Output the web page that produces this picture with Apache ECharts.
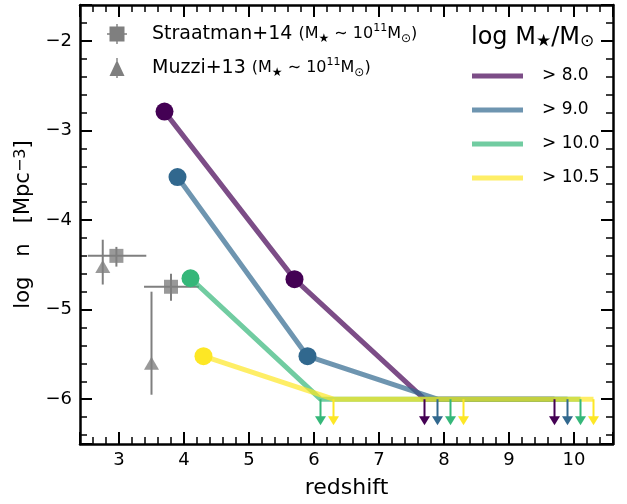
<!DOCTYPE html>
<html><head><meta charset="utf-8">
<script src="https://cdn.jsdelivr.net/npm/echarts@6.0.0/dist/echarts.min.js"></script>
<style>html,body{margin:0;padding:0;background:#fff}#c{width:627px;height:504px}</style>
</head><body><div id="c"></div>
<script>
const FONT = 'DejaVu Sans';

// ---- data: number density per stellar-mass threshold ----
const massLabels = ['> 8.0', '> 9.0', '> 10.0', '> 10.5'];
const massColors = ['#440154', '#31688e', '#35b779', '#fde725'];
const lineColors = ['rgba(68,1,84,0.7)', 'rgba(49,104,142,0.7)', 'rgba(53,183,121,0.7)', 'rgba(253,231,37,0.7)'];

const z80  = [3.7, 5.7, 7.7, 9.7];
const n80  = [-2.79, -4.66, -6.0, -6.0];
const lim80 = [0, 0, 1, 1];

const z90  = [3.9, 5.9, 7.9, 9.9];
const n90  = [-3.52, -5.52, -6.0, -6.0];
const lim90 = [0, 0, 1, 1];

const z100 = [4.1, 6.1, 8.1, 10.1];
const n100 = [-4.65, -6.0, -6.0, -6.0];
const lim100 = [0, 1, 1, 1];

const z105 = [4.3, 6.3, 8.3, 10.3];
const n105 = [-5.52, -6.0, -6.0, -6.0];
const lim105 = [0, 1, 1, 1];

// Straatman+14
const zS   = [2.96, 3.80];
const nS   = [-4.40, -4.745];
const zSlo = [2.52, 3.385];
const zShi = [3.42, 4.23];
const nSlo = [-4.52, -4.90];
const nShi = [-4.30, -4.60];

// Muzzi+13
const zM   = [2.75, 3.50];
const nM   = [-4.52, -5.60];
const nMlo = [-4.72, -5.95];
const nMhi = [-4.22, -4.80];

const xTicks = [3, 4, 5, 6, 7, 8, 9, 10];
const yTicks = [-6, -5, -4, -3, -2];

// ---- build ----
const groups = [
  [z80, n80, lim80], [z90, n90, lim90], [z100, n100, lim100], [z105, n105, lim105]
];
const ARROW_LEN = 0.29;
const GRAY = '#7f7f7f';

function fmtTick(list) {
  return v => {
    const r = Math.round(v);
    if (Math.abs(v - r) > 1e-6 || list.indexOf(r) < 0) return '';
    return r < 0 ? '\u2212' + Math.abs(r) : String(r);
  };
}

const series = [];
function errRender(params, api) {
  const x = api.value(0), y = api.value(1);
  const a = api.coord([api.value(2), y]), b = api.coord([api.value(3), y]);
  const c = api.coord([x, api.value(4)]), d = api.coord([x, api.value(5)]);
  const st = {stroke: GRAY, lineWidth: 2};
  return {type: 'group', children: [
    {type: 'line', shape: {x1: a[0], y1: a[1], x2: b[0], y2: b[1]}, style: st},
    {type: 'line', shape: {x1: c[0], y1: c[1], x2: d[0], y2: d[1]}, style: st}
  ]};
}
series.push({
  name: 'Straatman+14', type: 'custom', z: 1, silent: true,
  data: zS.map((z, i) => [z, nS[i], zSlo[i], zShi[i], nSlo[i], nShi[i]]),
  renderItem: errRender
});
series.push({
  name: 'Muzzi+13', type: 'custom', z: 1, silent: true,
  data: zM.map((z, i) => [z, nM[i], z, z, nMlo[i], nMhi[i]]),
  renderItem: errRender
});
series.push({
  name: 'Straatman+14', type: 'scatter', z: 2, symbol: 'rect', symbolSize: 14,
  itemStyle: {color: GRAY}, data: zS.map((z, i) => [z, nS[i]])
});
series.push({
  name: 'Muzzi+13', type: 'scatter', z: 2, symbol: 'triangle', symbolSize: [15, 13],
  itemStyle: {color: GRAY}, data: zM.map((z, i) => [z, nM[i]])
});

groups.forEach((g, k) => {
  const [zz, nn, ll] = g;
  series.push({
    name: massLabels[k], type: 'line', z: 3, symbol: 'none',
    itemStyle: {color: lineColors[k]},
    lineStyle: {color: lineColors[k], width: 5, cap: 'butt'},
    data: zz.map((z, i) => [z, nn[i]])
  });
  series.push({
    name: massLabels[k], type: 'custom', z: 4, silent: true,
    data: zz.map((z, i) => [z, nn[i], ll[i]]).filter(p => p[2] === 1),
    renderItem: (params, api) => {
      const p0 = api.coord([api.value(0), api.value(1)]);
      const p1 = api.coord([api.value(0), api.value(1) - ARROW_LEN]);
      const col = massColors[k];
      return {type: 'group', children: [
        {type: 'line', shape: {x1: p0[0], y1: p0[1], x2: p1[0], y2: p1[1] - 8}, style: {stroke: col, lineWidth: 2}},
        {type: 'polygon', shape: {points: [[p1[0] - 5.5, p1[1] - 9], [p1[0] + 5.5, p1[1] - 9], [p1[0], p1[1]]]}, style: {fill: col}}
      ]};
    }
  });
  series.push({
    name: massLabels[k], type: 'scatter', z: 5, symbol: 'circle', symbolSize: 18,
    itemStyle: {color: massColors[k], opacity: 1},
    data: zz.map((z, i) => [z, nn[i], ll[i]]).filter(p => p[2] === 0).map(p => [p[0], p[1]])
  });
});

const axLine = {show: true, onZero: false, lineStyle: {color: '#000', width: 2.5}};
const axTick = {show: true, inside: true, length: 12, lineStyle: {color: '#000', width: 2}};
const axMinor = {show: true, splitNumber: 5, length: 7, lineStyle: {color: '#000', width: 1.5}};
function xAx(pos, lab) {
  return {
    type: 'value', position: pos, min: 2.4, max: 10.6, minInterval: 1, maxInterval: 1,
    axisLine: axLine, axisTick: axTick, minorTick: axMinor,
    splitLine: {show: false}, minorSplitLine: {show: false},
    axisLabel: lab ? {show: true, margin: 7, fontFamily: FONT, fontSize: 18, color: '#000', formatter: fmtTick(xTicks)} : {show: false},
    name: lab ? 'redshift' : '', nameLocation: 'middle', nameGap: 33,
    nameTextStyle: {fontFamily: FONT, fontSize: 22, color: '#000'}
  };
}
function yAx(pos, lab) {
  return {
    type: 'value', position: pos, min: -6.5, max: -1.6, minInterval: 1, maxInterval: 1,
    axisLine: axLine, axisTick: axTick, minorTick: axMinor,
    splitLine: {show: false}, minorSplitLine: {show: false},
    axisLabel: lab ? {show: true, margin: 8, fontFamily: FONT, fontSize: 18, color: '#000', formatter: fmtTick(yTicks)} : {show: false},
    name: lab ? 'log   n   [Mpc{sup|\u22123}]' : '', nameLocation: 'middle', nameGap: 45, nameRotate: 90,
    nameTextStyle: {fontFamily: FONT, fontSize: 21, color: '#000',
      rich: {sup: {fontFamily: FONT, fontSize: 16, color: '#000', verticalAlign: 'top', padding: [0, 0, 6, 0]}}}
  };
}

const SQ_ICON = 'path://M2.5,2.5H17.5V17.5H2.5Z M0,9.3H20V10.7H0Z M9.3,0H10.7V20H9.3Z';
const TR_ICON = 'path://M10,2L17.5,18H2.5Z M9.3,0H10.7V20H9.3Z';
const suffix = ' {p|(M}{s|\u2605}{p| \u223c 10}{u|11}{p|M}{s|\u2299}{p|)}';

const option = {
  animation: false,
  backgroundColor: '#fff',
  grid: {left: 80, right: 14, top: 5, bottom: 55, containLabel: false},
  xAxis: [xAx('bottom', true), xAx('top', false)],
  yAxis: [yAx('left', true), yAx('right', false)],
  title: {
    text: 'log M{s|\u2605}/M{s|\u2299}', left: 471, top: 26, padding: 0,
    textStyle: {fontFamily: FONT, fontSize: 24, fontWeight: 'normal', color: '#000',
      rich: {s: {fontFamily: FONT, fontSize: 17, color: '#000', verticalAlign: 'bottom'}}}
  },
  legend: [{
    data: [
      {name: 'Straatman+14', icon: SQ_ICON, itemStyle: {color: GRAY}},
      {name: 'Muzzi+13', icon: TR_ICON, itemStyle: {color: GRAY}}
    ],
    orient: 'vertical', left: 107, top: 23, itemWidth: 60, itemHeight: 20, itemGap: 12,
    symbolKeepAspect: true, selectedMode: false, padding: 0,
    formatter: name => '{m|' + name + '}' + suffix,
    textStyle: {fontFamily: FONT, fontSize: 19, color: '#000', lineHeight: 22,
      rich: {
        m: {fontFamily: FONT, fontSize: 19, color: '#000'},
        p: {fontFamily: FONT, fontSize: 16, color: '#000'},
        s: {fontFamily: FONT, fontSize: 12, color: '#000', verticalAlign: 'bottom'},
        u: {fontFamily: FONT, fontSize: 11, color: '#000', verticalAlign: 'top'}
      }}
  }, {
    data: massLabels.map((m, k) => ({name: m, icon: 'rect', itemStyle: {color: lineColors[k]}})),
    orient: 'vertical', left: 472, top: 64, itemWidth: 51, itemHeight: 5, itemGap: 10,
    selectedMode: false, padding: 0,
    textStyle: {fontFamily: FONT, fontSize: 17, color: '#000', lineHeight: 24, padding: [0, 0, 0, 14]}
  }],
  series: series
};

const chart = echarts.init(document.getElementById('c'), null, {renderer: 'canvas'});
chart.setOption(option);
</script>
</body></html>
